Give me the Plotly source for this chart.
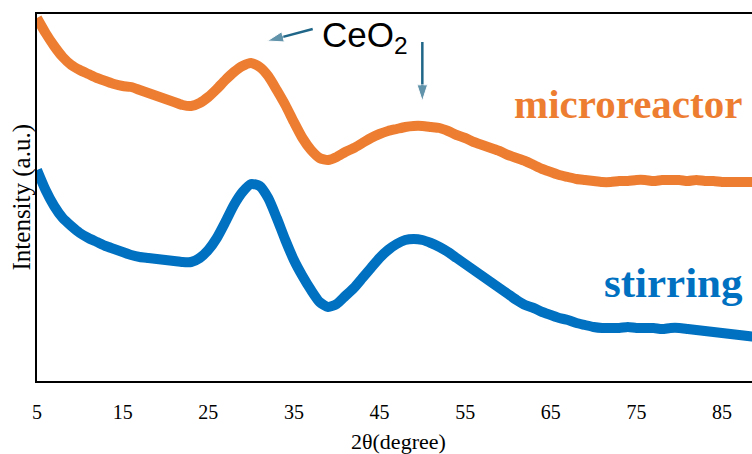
import plotly.graph_objects as go

two_theta = list(range(5, 91))

microreactor = [363, 348, 335, 324, 316, 311, 307, 303, 300, 297,
                295, 294, 291, 288, 285, 282, 279, 276, 275, 278,
                284, 292, 301, 309, 315, 318, 314, 305, 291, 276,
                259, 243, 231, 223, 221, 224, 229, 233, 238, 243,
                247, 250, 252, 254, 255, 255, 254, 253, 250, 246,
                243, 239, 236, 233, 230, 226, 223, 220, 216, 212,
                209, 206, 204, 202, 201, 200, 199, 199, 200, 200,
                201, 201, 200, 201, 201, 201, 200, 201, 200, 200,
                199, 199, 199, 199, 199, 199]

stirring = [211, 191, 175, 163, 155, 148, 143, 139, 135, 132,
            129, 126, 124, 123, 122, 121, 120, 119, 119, 123,
            131, 143, 159, 176, 189, 197, 195, 183, 163, 141,
            121, 105, 91, 79, 74, 77, 85, 93, 103, 113,
            123, 131, 137, 141, 142, 141, 138, 134, 129, 123,
            117, 111, 105, 99, 93, 87, 81, 76, 73, 69,
            66, 63, 61, 58, 56, 54, 53, 53, 53, 54,
            53, 53, 53, 52, 53, 53, 52, 51, 50, 49,
            48, 47, 46, 45, 44, 43]

tick_vals = [5, 15, 25, 35, 45, 55, 65, 75, 85]
tick_text = [str(v) for v in tick_vals]

# CeO2 pointer arrows: (tail, head) in data units
arrow1_x = [37.2, 31.9]
arrow1_y = [352, 340]
arrow2_x = [50.0, 50.0]
arrow2_y = [339, 280]

ORANGE = "#ED7D31"
BLUE = "#0070C0"
ARROW = "#1F6688"

fig = go.Figure()
fig.add_trace(go.Scatter(x=two_theta, y=microreactor, mode="lines",
                         line=dict(color=ORANGE, width=10, shape="spline", smoothing=0.6),
                         showlegend=False))
fig.add_trace(go.Scatter(x=two_theta, y=stirring, mode="lines",
                         line=dict(color=BLUE, width=10, shape="spline", smoothing=0.6),
                         showlegend=False))
for ax_, ay_ in [(arrow1_x, arrow1_y), (arrow2_x, arrow2_y)]:
    fig.add_trace(go.Scatter(x=ax_, y=ay_, mode="lines+markers",
                             line=dict(color=ARROW, width=2.5),
                             marker=dict(symbol="arrow", size=[0, 17], color=ARROW,
                                         angleref="previous"),
                             showlegend=False, hoverinfo="skip"))

serif = "Liberation Serif"

fig.update_layout(
    width=752, height=454,
    margin=dict(l=37, r=0, t=14, b=73),
    plot_bgcolor="white", paper_bgcolor="white",
    xaxis=dict(range=[5, 88.5], tickvals=tick_vals, ticktext=tick_text,
               showgrid=False, zeroline=False, showline=True, mirror=True,
               linecolor="black", linewidth=2, automargin=False,
               ticks="outside", ticklen=12, tickcolor="rgba(0,0,0,0)",
               tickfont=dict(family=serif, size=20, color="black")),
    yaxis=dict(range=[0, 367], showgrid=False, zeroline=False, showline=True,
               linecolor="black", linewidth=2, showticklabels=False, ticks="",
               automargin=False),
    annotations=[
        dict(text="2θ(degree)", xref="paper", yref="paper", x=0.506, y=-0.165,
             xanchor="center", yanchor="middle", showarrow=False,
             font=dict(family=serif, size=22, color="black")),
        dict(text="Intensity (a.u.)", xref="paper", yref="paper", x=-0.021, y=0.50,
             xanchor="center", yanchor="middle", textangle=-90, showarrow=False,
             font=dict(family=serif, size=25, color="black")),
        dict(text="microreactor", xref="x", yref="y", x=74.0, y=277,
             xanchor="center", yanchor="middle", showarrow=False,
             font=dict(family=serif, size=41, color=ORANGE, weight="bold")),
        dict(text="stirring", xref="x", yref="y", x=79.3, y=99,
             xanchor="center", yanchor="middle", showarrow=False,
             font=dict(family=serif, size=43, color=BLUE, weight="bold")),
        dict(text="CeO<sub>2</sub>", xref="x", yref="y", x=43.3, y=344,
             xanchor="center", yanchor="middle", showarrow=False,
             font=dict(family="Liberation Sans", size=35, color="black")),
    ],
)

fig.write_html("out.html")
